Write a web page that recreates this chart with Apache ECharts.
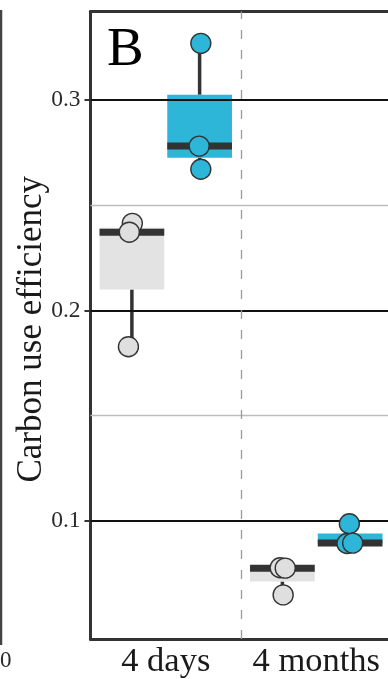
<!DOCTYPE html>
<html>
<head>
<meta charset="utf-8">
<style>
  html, body { margin: 0; padding: 0; background: #ffffff; }
  #chart { width: 388px; height: 679px; }
</style>
<script src="https://cdn.jsdelivr.net/npm/echarts@6/dist/echarts.min.js"></script>
</head>
<body>
<div id="chart"></div>
<script>
// ---- data ----
const categories = ["4 days", "4 months"];
const majorTicks = [0.1, 0.2, 0.3];
const minorGrid = [0.15, 0.25];
// raw observations per category (grey group, blue group)
const greyPoints = [[0.2414, 0.2372, 0.1828], [0.0778, 0.0776, 0.0649]];
const bluePoints = [[0.3269, 0.2781, 0.2671], [0.0987, 0.0893, 0.0895]];
// horizontal jitter of each point (in category units)
const greyJitter = [[0.003, -0.017, -0.023], [-0.015, 0.019, 0.005]];
const blueJitter = [[0.008, -0.003, 0.008], [-0.005, -0.021, 0.017]];

// ---- styling / layout constants ----
const DODGE = 0.225;
const BOX_WIDTH = 0.43;
const boxFills = ['#E3E3E3', '#2DB6D8'];
const pointFills = ['#DFDFDF', '#2DB6D8'];
const DARK = '#333333';
const SERIF = "'Liberation Serif', 'DejaVu Serif', serif";

function quantile(sorted, p) {
  const h = (sorted.length - 1) * p;
  const lo = Math.floor(h);
  const hi = Math.min(lo + 1, sorted.length - 1);
  return sorted[lo] + (h - lo) * (sorted[hi] - sorted[lo]);
}
function boxStats(values) {
  const s = values.slice().sort((a, b) => a - b);
  const q1 = quantile(s, 0.25), med = quantile(s, 0.5), q3 = quantile(s, 0.75);
  const iqr = q3 - q1;
  const inside = s.filter(v => v >= q1 - 1.5 * iqr && v <= q3 + 1.5 * iqr);
  return [inside[0], q1, med, q3, inside[inside.length - 1]];
}

const groups = [greyPoints, bluePoints];
const jitters = [greyJitter, blueJitter];
const boxData = [];
const pointData = [[], []];
categories.forEach((c, ci) => {
  groups.forEach((g, gi) => {
    const xc = ci + 1 + (gi === 0 ? -DODGE : DODGE);
    boxData.push([xc].concat(boxStats(g[ci])).concat([gi]));
    g[ci].forEach((v, k) => pointData[gi].push([xc + jitters[gi][ci][k], v]));
  });
});

const chart = echarts.init(document.getElementById('chart'), null, { renderer: 'canvas' });

const option = {
  animation: false,
  grid: { left: 90.5, top: 11.5, bottom: 40, right: 0, containLabel: false },
  xAxis: [
    {
      type: 'value', min: 0.5, max: 2.4767, position: 'bottom',
      axisLine: { show: true, lineStyle: { color: DARK, width: 3 } },
      axisTick: { show: false },
      splitLine: { show: false },
      axisLabel: {
        customValues: [1, 2],
        formatter: v => categories[Math.round(v) - 1],
        fontFamily: SERIF, fontSize: 34.5, color: '#1a1a1a', margin: 5
      }
    },
    {
      type: 'value', min: 0.5, max: 2.4767, position: 'top',
      axisLine: { show: true, lineStyle: { color: DARK, width: 3 } },
      axisTick: { show: false }, axisLabel: { show: false }, splitLine: { show: false }
    }
  ],
  yAxis: {
    type: 'value', min: 0.04394, max: 0.34204,
    name: 'Carbon use efficiency', nameLocation: 'middle', nameGap: 41,
    nameMoveOverlap: false,
    nameTextStyle: { fontFamily: SERIF, fontSize: 35, color: '#1a1a1a', padding: [0, 8, 0, 0] },
    axisLine: { show: true, lineStyle: { color: DARK, width: 3 } },
    axisTick: { show: true, customValues: majorTicks, length: 6, lineStyle: { color: DARK, width: 2 } },
    splitLine: { show: false },
    axisLabel: {
      customValues: majorTicks,
      formatter: v => v.toFixed(1),
      fontFamily: SERIF, fontSize: 23.5, color: '#2a2a2a', margin: 10
    }
  },
  series: [
    {
      type: 'line', data: [], z: 1, silent: true,
      markLine: {
        silent: true, symbol: ['none', 'none'], label: { show: false }, animation: false,
        emphasis: { disabled: true },
        data: []
          .concat(minorGrid.map(v => ({ yAxis: v, lineStyle: { color: '#BDBDBD', width: 1.3, type: 'solid' } })))
          .concat(majorTicks.map(v => ({ yAxis: v, lineStyle: { color: '#111111', width: 2, type: 'solid' } })))
          .concat([{ xAxis: 1.5, lineStyle: { color: '#9A9A9A', width: 1.3, type: [9, 11] } }])
      }
    },
    {
      type: 'custom', z: 3, silent: true,
      encode: { x: 0, y: [1, 2, 3, 4, 5] },
      data: boxData,
      renderItem: function (params, api) {
        const x = api.value(0);
        const lo = api.coord([x, api.value(1)]);
        const q1 = api.coord([x, api.value(2)]);
        const med = api.coord([x, api.value(3)]);
        const q3 = api.coord([x, api.value(4)]);
        const hi = api.coord([x, api.value(5)]);
        const g = api.value(6);
        const w = api.size([BOX_WIDTH, 0])[0];
        const cx = q1[0];
        return {
          type: 'group',
          children: [
            { type: 'line', shape: { x1: cx, y1: q1[1], x2: cx, y2: lo[1] }, style: { stroke: DARK, lineWidth: 3.5 } },
            { type: 'line', shape: { x1: cx, y1: q3[1], x2: cx, y2: hi[1] }, style: { stroke: DARK, lineWidth: 3.5 } },
            { type: 'rect', shape: { x: cx - w / 2, y: q3[1], width: w, height: q1[1] - q3[1] }, style: { fill: boxFills[g] } },
            { type: 'line', shape: { x1: cx - w / 2, y1: med[1], x2: cx + w / 2, y2: med[1] }, style: { stroke: DARK, lineWidth: 7 } }
          ]
        };
      }
    },
    {
      type: 'scatter', z: 5, silent: true, data: pointData[0], symbolSize: 20,
      itemStyle: { color: pointFills[0], borderColor: DARK, borderWidth: 1.4, opacity: 1 }
    },
    {
      type: 'scatter', z: 5, silent: true, data: pointData[1], symbolSize: 20,
      itemStyle: { color: pointFills[1], borderColor: DARK, borderWidth: 1.4, opacity: 1 }
    }
  ],
  graphic: [
    { type: 'text', left: 107, top: 23, style: { text: 'B', font: "55px 'Liberation Serif', serif", fill: '#000' }, z: 10 },
    { type: 'line', shape: { x1: 1, y1: 10, x2: 1, y2: 645 }, style: { stroke: '#444', lineWidth: 2.5 }, z: 10 },
    { type: 'text', x: 0, y: 661, style: { text: '0', font: "23px 'Liberation Serif', serif", fill: '#2a2a2a', verticalAlign: 'middle', align: 'left' }, z: 10 }
  ]
};
chart.setOption(option);
</script>
</body>
</html>
